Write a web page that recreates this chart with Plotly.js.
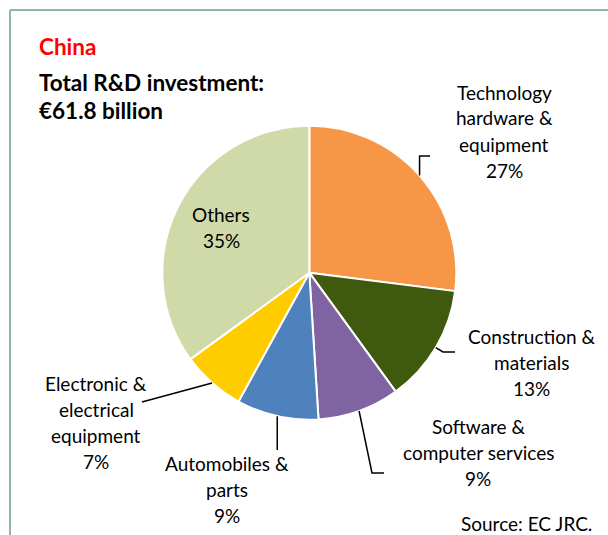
<!DOCTYPE html>
<html><head><meta charset="utf-8">
<script src="https://cdn.plot.ly/plotly-3.0.1.min.js"></script>
<style>html,body{margin:0;padding:0;background:#fff}</style>
</head><body><div id="chart" style="width:608px;height:535px"></div>
<script>
// ---- data ----
const categories = ["Technology hardware & equipment", "Construction & materials", "Software & computer services", "Automobiles & parts", "Electronic & electrical equipment", "Others"];
const shares = [27, 13, 9, 9, 7, 35];
const sliceColors = ["#F79646", "#3F5A0E", "#8064A2", "#4F81BD", "#FFCC00", "#D0DAA9"];
const labelLines = [["Technology", "hardware &", "equipment"], ["Construction &", "materials"], ["Software &", "computer services"], ["Automobiles &", "parts"], ["Electronic &", "electrical", "equipment"], ["Others"]];
const titleText = "China";
const subtitleLines = ["Total R&D investment:", "€61.8 billion"];
const sourceText = "Source: EC JRC.";

// ---- layout helpers ----
const W = 608, H = 535;
const cx = 309.3, cy = 272.7, R = 147;
const px = x => x / W, py = y => 1 - y / H;
const FONT = "Lato, 'Open Sans', sans-serif";
const LBL = 19, LH = 26;
const labelPos = [{x:504,y:92},{x:531,y:336},{x:478,y:426},{x:227,y:463},{x:96,y:383},{x:221,y:214}];
const leaders = [
  a => [[a[0],156],[430,156]],
  a => [[443,352],[455,352]],
  a => [[372,473],[384,473]],
  a => [[a[0],450]],
  a => [[142,402]],
  null
];

const total = shares.reduce((s,v)=>s+v,0);
let cum = 0;
const annotations = [];
const shapes = [];
shares.forEach((v,i) => {
  const mid = (cum + v/2) / total * 2 * Math.PI;
  cum += v;
  const anchor = [cx + R*Math.sin(mid), cy - R*Math.cos(mid)];
  const lines = labelLines[i].concat([v + "%"]);
  lines.forEach((t,j) => {
    annotations.push({xref:'paper', yref:'paper', x:px(labelPos[i].x), y:py(labelPos[i].y + j*LH),
      text:t, showarrow:false, xanchor:'center', yanchor:'middle',
      font:{family:FONT, size:LBL, color:'#000'}});
  });
  if (leaders[i]) {
    const pts = [anchor].concat(leaders[i](anchor));
    const d = pts.map((p,k)=>(k?'L':'M')+px(p[0])+','+py(p[1])).join(' ');
    shapes.push({type:'path', xref:'paper', yref:'paper', path:d, line:{color:'#000', width:1.5}});
  }
});

annotations.push({xref:'paper', yref:'paper', x:px(37), y:py(46), text:'<b>'+titleText+'</b>', showarrow:false, xanchor:'left', yanchor:'middle', font:{family:FONT, size:22.5, color:'#FF0000'}});
subtitleLines.forEach((t,j)=>annotations.push({xref:'paper', yref:'paper', x:px(37), y:py(82 + j*28), text:'<b>'+t+'</b>', showarrow:false, xanchor:'left', yanchor:'middle', font:{family:FONT, size:22.5, color:'#000'}}));
annotations.push({xref:'paper', yref:'paper', x:px(594), y:py(523), text:sourceText, showarrow:false, xanchor:'right', yanchor:'middle', font:{family:FONT, size:LBL, color:'#000'}});

shapes.push({type:'line', xref:'paper', yref:'paper', x0:px(10), y0:py(10), x1:px(608), y1:py(10), line:{color:'#93B3B3', width:2}});
shapes.push({type:'line', xref:'paper', yref:'paper', x0:px(10), y0:py(10), x1:px(10), y1:py(535), line:{color:'#93B3B3', width:2}});

const trace = {
  type:'pie', labels:categories, values:shares, sort:false, direction:'clockwise', rotation:0,
  marker:{colors:sliceColors, line:{color:'#FFFFFF', width:2}},
  textinfo:'none', hoverinfo:'label+percent', showlegend:false,
  domain:{x:[px(cx-R), px(cx+R)], y:[py(cy+R), py(cy-R)]}
};
Plotly.newPlot('chart', [trace], {
  width:W, height:H, margin:{l:0,r:0,t:0,b:0}, paper_bgcolor:'#fff', plot_bgcolor:'#fff',
  showlegend:false, annotations:annotations, shapes:shapes
}, {displayModeBar:false, staticPlot:true});
</script></body></html>
